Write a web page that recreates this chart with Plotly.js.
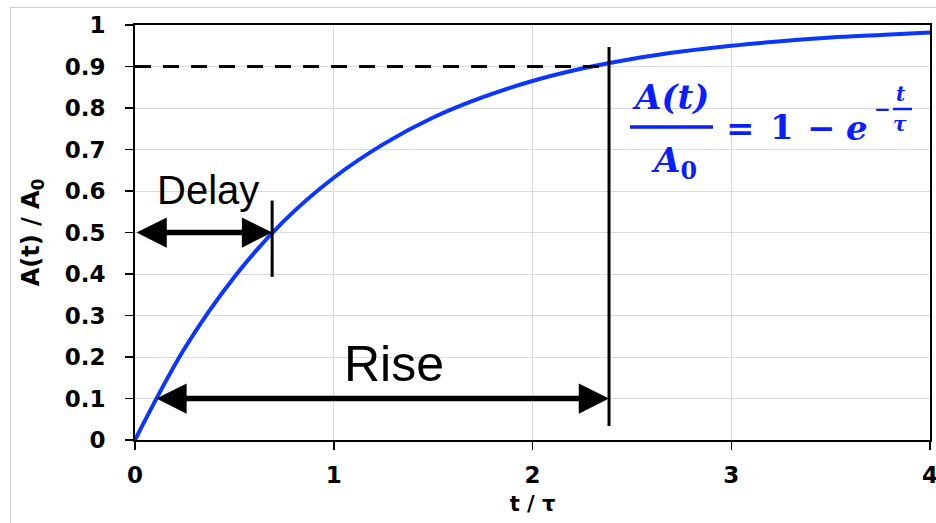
<!DOCTYPE html>
<html>
<head>
<meta charset="utf-8">
<script src="https://cdn.plot.ly/plotly-3.0.1.min.js"></script>
<style>
  html, body { margin: 0; padding: 0; background: #fff; }
  #wrap { position: relative; width: 936px; height: 523px; overflow: hidden; }
  #frame { position: absolute; left: 10px; top: 7px; width: 926px; height: 516px;
           border-left: 1px solid #d0d0d0; border-top: 1px solid #d0d0d0; pointer-events: none; }
  #chart { position: absolute; left: 0; top: 0; width: 936px; height: 523px; }
</style>
</head>
<body>
<div id="wrap">
  <div id="chart"></div>
  <div id="frame"></div>
</div>
<script>
// Curve values: t/tau and A(t)/A0
var tValues = [0, 0.25, 0.5, 0.75, 1, 1.25, 1.5, 1.75, 2, 2.25, 2.5, 2.75, 3, 3.25, 3.5, 3.75, 4];
var aValues = [0, 0.221, 0.393, 0.528, 0.632, 0.713, 0.777, 0.826, 0.865, 0.895, 0.918, 0.936, 0.950, 0.961, 0.970, 0.976, 0.982];

// Marker values
var delayT = 0.69;        // delay marker position (t/tau)
var delayLevel = 0.5;     // A/A0 level of delay
var riseStartT = 0.10;    // rise start (t/tau)
var riseEndT = 2.385;     // rise end (t/tau)
var riseLevelLow = 0.1;   // lower level
var riseLevelHigh = 0.9;  // upper level (dashed line)

var xTickVals = [0, 1, 2, 3, 4];
var xTickText = ['0', '1', '2', '3', '4'];
var yTickVals = [0, 0.1, 0.2, 0.3, 0.4, 0.5, 0.6, 0.7, 0.8, 0.9, 1];
var yTickText = ['0', '0.1', '0.2', '0.3', '0.4', '0.5', '0.6', '0.7', '0.8', '0.9', '1'];

var blueF = '#0a1eff';
function fBig() { return {family: 'DejaVu Serif', size: 34, color: blueF, weight: 'bold', style: 'italic'}; }
function fBigUp() { return {family: 'DejaVu Serif', size: 34, color: blueF, weight: 'bold', style: 'normal'}; }
function fSmall() { return {family: 'DejaVu Serif', size: 20, color: blueF, weight: 'bold', style: 'italic'}; }

// pixel-to-axis helpers for placing the equation text (layout only)
function X(px) { return (px - 135) / 198.75; }
function Y(py) { return (440 - py) / 415; }

var trace = {
  x: tValues, y: aValues, type: 'scatter', mode: 'lines',
  line: {color: '#0a36ff', width: 4, shape: 'spline', smoothing: 1.0},
  hoverinfo: 'skip', showlegend: false
};

function ann(text, px, py, font) {
  return {x: X(px), y: Y(py), xref: 'x', yref: 'y', text: text, showarrow: false,
          xanchor: 'center', yanchor: 'middle', font: font};
}

var layout = {
  width: 936, height: 523,
  margin: {l: 135, r: 6, t: 25, b: 83},
  paper_bgcolor: 'rgba(0,0,0,0)', plot_bgcolor: '#fff',
  showlegend: false,
  xaxis: {
    range: [0, 4], tickvals: xTickVals, ticktext: xTickText,
    showgrid: true, gridcolor: '#dadada', gridwidth: 1,
    zeroline: false, showline: true, linecolor: '#000', linewidth: 2, mirror: true,
    ticks: 'outside', ticklen: 8, tickwidth: 1.5, tickcolor: '#000',
    ticklabelstandoff: 5, ticklabeloverflow: 'allow',
    tickfont: {family: 'DejaVu Sans', size: 23, color: '#000', weight: 'bold'},
    title: {text: 't / τ', font: {family: 'DejaVu Sans', size: 21, color: '#000', weight: 'bold'}, standoff: 10}
  },
  yaxis: {
    range: [0, 1], tickvals: yTickVals, ticktext: yTickText,
    showgrid: true, gridcolor: '#dadada', gridwidth: 1,
    zeroline: false, showline: true, linecolor: '#000', linewidth: 2, mirror: true,
    ticks: 'outside', ticklen: 8, tickwidth: 1.5, tickcolor: '#000',
    ticklabelstandoff: 15, ticklabeloverflow: 'allow',
    tickfont: {family: 'DejaVu Sans', size: 23, color: '#000', weight: 'bold'},
    title: {text: 'A(t) / A<sub>0</sub>', font: {family: 'DejaVu Sans', size: 24, color: '#000', weight: 'bold'}, standoff: 18}
  },
  shapes: [
    {type: 'line', xref: 'x', yref: 'y', x0: 0, x1: riseEndT, y0: riseLevelHigh, y1: riseLevelHigh,
     line: {color: '#000', width: 3, dash: '16px,12px'}},
    {type: 'line', xref: 'x', yref: 'y', x0: riseEndT, x1: riseEndT, y0: 0.034, y1: 0.947,
     line: {color: '#000', width: 3}},
    {type: 'line', xref: 'x', yref: 'y', x0: delayT, x1: delayT, y0: 0.393, y1: 0.577,
     line: {color: '#000', width: 3}},
    // fraction bars of the equation
    {type: 'line', xref: 'x', yref: 'y', x0: X(630), x1: X(713), y0: Y(127), y1: Y(127),
     line: {color: blueF, width: 3.5}},
    {type: 'line', xref: 'x', yref: 'y', x0: X(893), x1: X(912), y0: Y(109), y1: Y(109),
     line: {color: blueF, width: 2.5}}
  ],
  annotations: [
    {x: delayT, y: delayLevel, ax: 0, ay: delayLevel, xref: 'x', yref: 'y', axref: 'x', ayref: 'y',
     text: '', showarrow: true, arrowhead: 2, startarrowhead: 2, arrowside: 'end+start',
     arrowwidth: 5.5, arrowsize: 1.1, startarrowsize: 1.1, arrowcolor: '#000', standoff: 0, startstandoff: 0},
    {x: riseEndT, y: riseLevelLow, ax: riseStartT, ay: riseLevelLow, xref: 'x', yref: 'y', axref: 'x', ayref: 'y',
     text: '', showarrow: true, arrowhead: 2, startarrowhead: 2, arrowside: 'end+start',
     arrowwidth: 5.5, arrowsize: 1.1, startarrowsize: 1.1, arrowcolor: '#000', standoff: 0, startstandoff: 0},
    ann('Delay', 208, 190, {family: 'Liberation Sans', size: 40, color: '#000'}),
    ann('Rise', 394, 364, {family: 'Liberation Sans', size: 50, color: '#000'}),
    ann('A(t)', 670, 97, fBig()),
    ann('A<sub><span style="font-style:normal">0</span></sub>', 674, 162, fBig()),
    ann('=', 740, 128, fBigUp()),
    ann('1', 782, 127, fBigUp()),
    ann('−', 821, 128, fBigUp()),
    ann('e', 857, 128, fBig()),
    ann('−', 882, 109, fSmall()),
    ann('t', 901, 94, fSmall()),
    ann('τ', 900, 124, fSmall())
  ]
};

Plotly.newPlot('chart', [trace], layout, {displayModeBar: false, staticPlot: true});
</script>
</body>
</html>
